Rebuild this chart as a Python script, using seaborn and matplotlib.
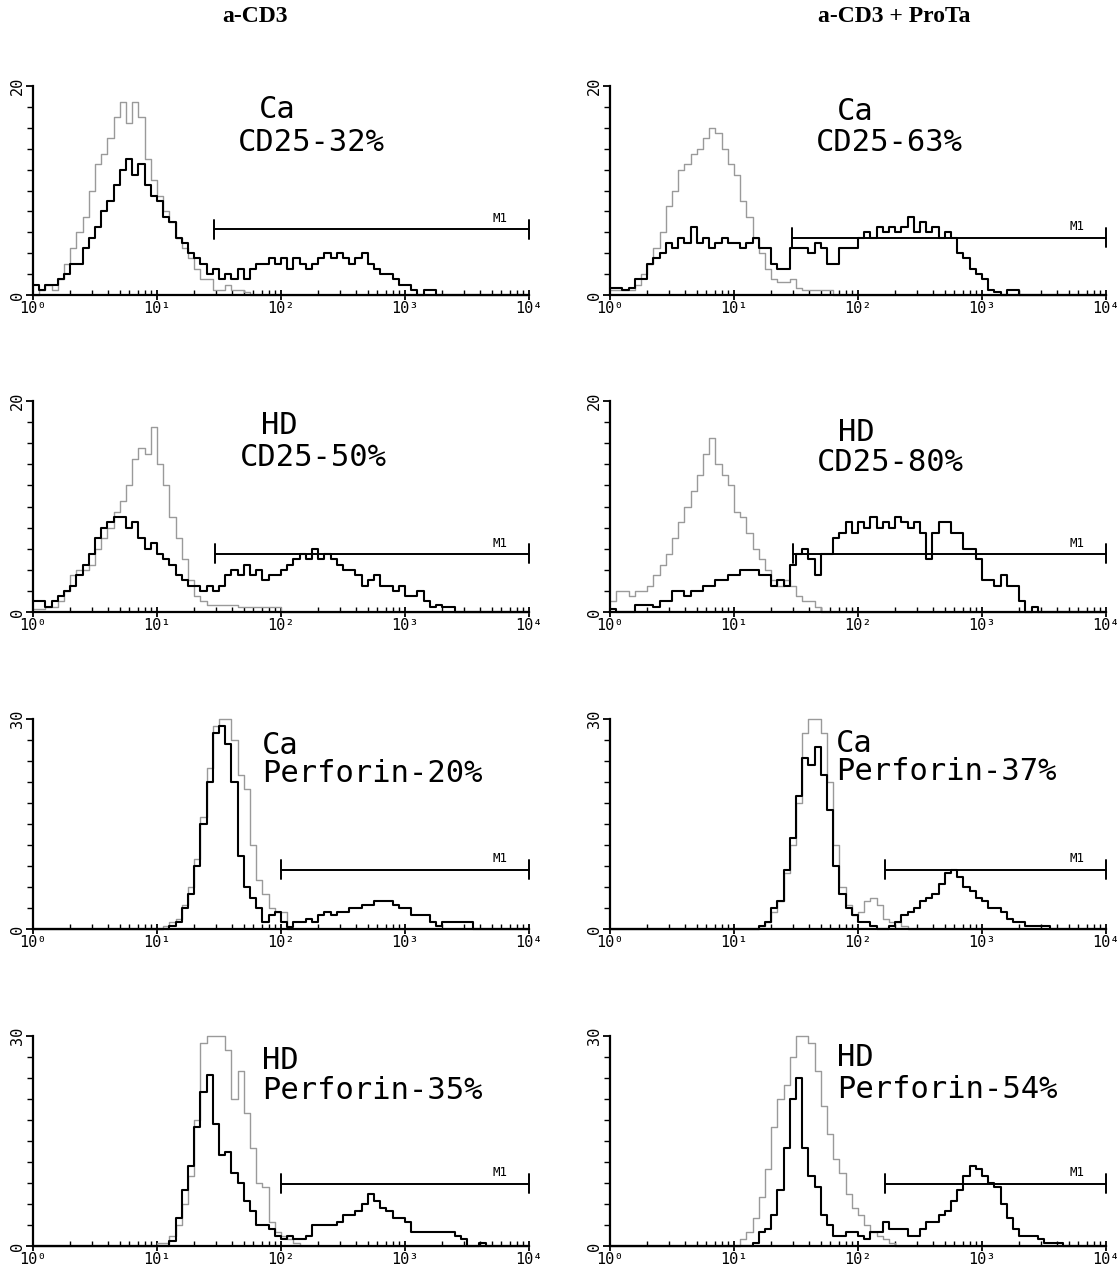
import numpy as np
import pandas as pd
import matplotlib
matplotlib.use("Agg")
import matplotlib.pyplot as plt
import seaborn as sns
from matplotlib.ticker import FixedLocator, NullFormatter

# ---------------- data (counts per channel, 0.05-decade channels from 10^0 to 10^4) ----------------
channel_edges_log = np.linspace(0, 4, 81)

# Row 1 left: Ca, a-CD3, CD25
ca_cd25_acd3_stain = [1, 0.5, 1, 1, 1.5, 2, 3, 3, 4.5, 5.5,
                      6.5, 8, 9, 10.5, 12, 13, 11.5, 12.5, 10.5, 9.5,
                      9, 7.5, 7, 5.5, 5, 4, 3.5, 3, 2, 2.5,
                      1.5, 2, 1.5, 2.5, 1.5, 2.5, 3, 3, 3.5, 3,
                      3.5, 2.5, 3.5, 3, 2.5, 3, 3.5, 4, 3.5, 4,
                      3.5, 3, 3.5, 4, 3, 2.5, 2, 2, 1.5, 1,
                      1, 0.5, 0, 0.5, 0.5, 0, 0, 0, 0, 0,
                      0, 0, 0, 0, 0, 0, 0, 0, 0, 0]
ca_cd25_acd3_ctrl = [0, 0.5, 1, 0.5, 1.5, 3, 4.5, 6, 7.5, 10,
                     12.5, 13.5, 15, 17, 18.5, 16.5, 18.5, 17, 13, 11,
                     9.5, 8, 7, 5.5, 4.5, 3.5, 2.5, 1.5, 1.5, 0.5,
                     0.5, 1, 0.5, 0.5, 0.3, 0, 0, 0, 0, 0,
                     0, 0, 0, 0, 0, 0, 0, 0, 0, 0,
                     0, 0, 0, 0, 0, 0, 0, 0, 0, 0,
                     0, 0, 0, 0, 0, 0, 0, 0, 0, 0,
                     0, 0, 0, 0, 0, 0, 0, 0, 0, 0]

# Row 1 right: Ca, a-CD3 + ProTa, CD25
ca_cd25_prota_stain = [0.7, 0.7, 0.5, 0.7, 1.5, 1.5, 3, 3.5, 4, 5,
                       4.5, 5.5, 5, 6.5, 5, 5.5, 4.5, 5, 5.5, 5,
                       5, 4.5, 5, 5.5, 4.5, 4.5, 3, 2.5, 2.5, 4.5,
                       4.5, 4.5, 4, 5, 4.5, 3, 3, 4.5, 4.5, 4.5,
                       5.5, 6, 5.5, 6.5, 6, 6.5, 6, 6.5, 7.5, 6,
                       7, 6, 6.5, 5.5, 6, 5.5, 4, 3.5, 2.5, 2,
                       1.5, 0.5, 0.3, 0, 0.5, 0.5, 0, 0, 0, 0,
                       0, 0, 0, 0, 0, 0, 0, 0, 0, 0]
ca_cd25_prota_ctrl = [0.5, 0.5, 0.5, 0.5, 1, 2, 3, 4.5, 6, 8.5,
                      10, 12, 12.5, 13.5, 14, 15, 16, 15.5, 14, 12.5,
                      11.5, 9, 7.5, 5.5, 4, 2.5, 1.5, 1.2, 1.2, 1.5,
                      0.7, 0.5, 0.5, 0.5, 0.5, 0.5, 0, 0, 0, 0,
                      0, 0, 0, 0, 0, 0, 0, 0, 0, 0,
                      0, 0, 0, 0, 0, 0, 0, 0, 0, 0,
                      0, 0, 0, 0, 0, 0, 0, 0, 0, 0,
                      0, 0, 0, 0, 0, 0, 0, 0, 0, 0]

# Row 2 left: HD, a-CD3, CD25
hd_cd25_acd3_stain = [1, 1, 0.5, 1, 1.5, 2, 2.5, 3.5, 4.5, 5.5,
                      7, 8, 8.5, 9, 9, 8, 8.5, 7, 6, 6.5,
                      5.5, 5, 4.5, 3.5, 3, 2.5, 2.5, 2, 2.5, 2,
                      2.5, 3.5, 4, 3.5, 4.5, 3.5, 4, 3, 3.5, 3.5,
                      4, 4.5, 5, 5.5, 5, 6, 5, 5.5, 5, 4.5,
                      4, 4, 3.5, 2.5, 3, 3.5, 2.5, 2.5, 2, 2.5,
                      1.5, 1.5, 2, 1, 0.5, 0.7, 0.5, 0.5, 0, 0,
                      0, 0, 0, 0, 0, 0, 0, 0, 0, 0]
hd_cd25_acd3_ctrl = [0.3, 0.3, 0.5, 0.5, 1, 2, 3.5, 4, 4, 4.5,
                     6, 7, 8, 9.5, 10.5, 12, 14.5, 15.5, 15, 17.5,
                     14, 12, 9, 7, 5, 3, 1.5, 1, 0.7, 0.7,
                     0.7, 0.7, 0.7, 0.5, 0.5, 0.5, 0.5, 0.5, 0.5, 0.5,
                     0, 0, 0, 0, 0, 0, 0, 0, 0, 0,
                     0, 0, 0, 0, 0, 0, 0, 0, 0, 0,
                     0, 0, 0, 0, 0, 0, 0, 0, 0, 0,
                     0, 0, 0, 0, 0, 0, 0, 0, 0, 0]

# Row 2 right: HD, a-CD3 + ProTa, CD25
hd_cd25_prota_stain = [0.3, 0, 0, 0, 0.7, 0.7, 0.7, 0.5, 1, 1,
                       2, 2, 1.5, 2, 2, 2.5, 2.5, 3, 3, 3.5,
                       3.5, 4, 4, 4, 3.5, 3.5, 2.5, 3, 2.5, 4.5,
                       5.5, 6, 5, 3.5, 5.5, 5.5, 7, 7.5, 8.5, 7.5,
                       8.5, 8, 9, 8, 8.5, 8, 9, 8.5, 8, 8.5,
                       7.5, 5, 7.5, 8.5, 8.5, 7.5, 7.5, 6, 6, 5,
                       3, 3, 2.5, 3.5, 2.5, 2.5, 1, 0, 0.5, 0,
                       0, 0, 0, 0, 0, 0, 0, 0, 0, 0]
hd_cd25_prota_ctrl = [1, 2, 2, 1.5, 2, 2, 2.5, 3.5, 4.5, 5.5,
                      7, 8.5, 10, 11.5, 13, 15, 16.5, 14, 13, 12,
                      9.5, 9, 7.5, 6, 5, 4, 3, 2.5, 3, 2.5,
                      1.5, 1, 1, 0.5, 0, 0, 0, 0, 0, 0,
                      0, 0, 0, 0, 0, 0, 0, 0, 0, 0,
                      0, 0, 0, 0, 0, 0, 0, 0, 0, 0,
                      0, 0, 0, 0, 0, 0, 0, 0, 0, 0,
                      0, 0, 0, 0, 0, 0, 0, 0, 0, 0]

# Row 3 left: Ca, a-CD3, Perforin
ca_perf_acd3_stain = [0, 0, 0, 0, 0, 0, 0, 0, 0, 0,
                      0, 0, 0, 0, 0, 0, 0, 0, 0, 0,
                      0, 0, 0.5, 1, 3, 5, 9, 15, 21, 28,
                      29, 26.5, 21, 10.5, 6, 4.5, 3, 1, 2, 2.5,
                      1, 0.3, 1, 1, 1.5, 1, 2, 2.5, 2, 2.5,
                      2.5, 3, 3, 3.5, 3.5, 4, 4, 4, 3.5, 3,
                      3, 2, 2, 2, 1, 0.5, 1, 1, 1, 1,
                      1, 0, 0, 0, 0, 0, 0, 0, 0, 0]
ca_perf_acd3_ctrl = [0, 0, 0, 0, 0, 0, 0, 0, 0, 0,
                     0, 0, 0, 0, 0, 0, 0, 0, 0, 0,
                     0, 0.5, 1, 1.5, 3.5, 6, 10, 16, 23, 29,
                     30, 30, 27, 22, 20, 12, 7, 5, 3, 2.5,
                     2.5, 0, 0, 0, 0, 0, 0, 0, 0, 0,
                     0, 0, 0, 0, 0, 0, 0, 0, 0, 0,
                     0, 0, 0, 0, 0, 0, 0, 0, 0, 0,
                     0, 0, 0, 0, 0, 0, 0, 0, 0, 0]

# Row 3 right: Ca, a-CD3 + ProTa, Perforin
ca_perf_prota_stain = [0, 0, 0, 0, 0, 0, 0, 0, 0, 0,
                       0, 0, 0, 0, 0, 0, 0, 0, 0, 0,
                       0, 0, 0, 0, 0.5, 1, 3, 4, 8.5, 13,
                       19, 24.5, 23.5, 26, 22, 17, 9, 5, 3, 2,
                       1, 1, 0.5, 0, 0, 0.5, 1, 2, 2.5, 3,
                       4, 4.5, 5, 6.5, 8, 8.5, 7.5, 6, 5.5, 4.5,
                       4, 3, 3, 2.5, 1.5, 1, 1, 0.5, 0.5, 0.5,
                       0.5, 0, 0, 0, 0, 0, 0, 0, 0, 0]
ca_perf_prota_ctrl = [0, 0, 0, 0, 0, 0, 0, 0, 0, 0,
                      0, 0, 0, 0, 0, 0, 0, 0, 0, 0,
                      0, 0, 0, 0, 0.5, 1, 2.5, 4, 8, 12,
                      18, 28, 30, 30, 28, 21, 12, 6, 3.5, 2,
                      2.5, 4, 4.5, 3.5, 1.5, 1, 1, 0.5, 0, 0,
                      0, 0, 0, 0, 0, 0, 0, 0, 0, 0,
                      0, 0, 0, 0, 0, 0, 0, 0, 0, 0,
                      0, 0, 0, 0, 0, 0, 0, 0, 0, 0]

# Row 4 left: HD, a-CD3, Perforin
hd_perf_acd3_stain = [0, 0, 0, 0, 0, 0, 0, 0, 0, 0,
                      0, 0, 0, 0, 0, 0, 0, 0, 0, 0,
                      0, 0, 0.7, 4, 8, 11.5, 17, 22, 24.5, 17.5,
                      13, 13.5, 10.5, 9, 6.5, 5, 3, 3, 2.5, 1.5,
                      1, 1.5, 1, 1, 1.5, 3, 3, 3, 3, 3.5,
                      4.5, 4.5, 5, 6, 7.5, 6.5, 5.5, 5, 4, 4,
                      3.5, 2, 2, 2, 2, 2, 2, 2, 1.5, 1,
                      0, 0, 0.5, 0, 0, 0, 0, 0, 0, 0]
hd_perf_acd3_ctrl = [0, 0, 0, 0, 0, 0, 0, 0, 0, 0,
                     0, 0, 0, 0, 0, 0, 0, 0, 0, 0,
                     0.5, 0.5, 1.5, 3, 6, 10, 18, 29, 30, 30,
                     30, 28, 21, 25, 19, 14, 9, 8.5, 3.5, 2,
                     1.5, 1, 0.5, 0, 0, 0, 0, 0, 0, 0,
                     0, 0, 0, 0, 0, 0, 0, 0, 0, 0,
                     0, 0, 0, 0, 0, 0, 0, 0, 0, 0,
                     0, 0, 0, 0, 0, 0, 0, 0, 0, 0]

# Row 4 right: HD, a-CD3 + ProTa, Perforin
hd_perf_prota_stain = [0, 0, 0, 0, 0, 0, 0, 0, 0, 0,
                       0, 0, 0, 0, 0, 0, 0, 0, 0, 0,
                       0, 0, 0, 0.5, 2, 2.5, 4.5, 8, 14, 21,
                       24, 14, 10, 8.5, 4.5, 3, 1.5, 1.5, 2, 2,
                       1.5, 1, 2, 2, 3.5, 2.5, 2.5, 2.5, 1.5, 1.5,
                       2.5, 3.5, 3.5, 4.5, 5, 6.5, 8, 10, 11.5, 11,
                       10, 9, 8.5, 6, 4, 2.5, 1.5, 1.5, 1.5, 1,
                       0.5, 0.5, 0.5, 0, 0, 0, 0, 0, 0, 0]
hd_perf_prota_ctrl = [0, 0, 0, 0, 0, 0, 0, 0, 0, 0,
                      0, 0, 0, 0, 0, 0, 0, 0, 0, 0,
                      0, 1, 2, 4, 7, 11, 17, 21, 23, 27,
                      30, 30, 29, 25, 20, 16, 12.5, 10.5, 7.5, 5.5,
                      4.5, 3, 2, 1.5, 1, 0.5, 0, 0, 0, 0,
                      0, 0, 0, 0, 0, 0, 0, 0, 0, 0,
                      0, 0, 0, 0, 0, 0, 0, 0, 0, 0,
                      0, 0, 0, 0, 0, 0, 0, 0, 0, 0]

column_titles = ["a-CD3", "a-CD3 + ProTa"]
group_labels = ["Ca", "Ca", "HD", "HD", "Ca", "Ca", "HD", "HD"]
marker_labels = ["CD25-32%", "CD25-63%", "CD25-50%", "CD25-80%",
                 "Perforin-20%", "Perforin-37%", "Perforin-35%", "Perforin-54%"]
y_max = [20, 20, 20, 20, 30, 30, 30, 30]
gate_start = [29, 29.5, 29.5, 30, 100, 166, 100, 166]
gate_level = [6.3, 5.5, 5.5, 5.5, 8.5, 8.5, 8.9, 8.9]
x_tick_labels = ["10⁰", "10¹", "10²", "10³", "10⁴"]

stains = [ca_cd25_acd3_stain, ca_cd25_prota_stain, hd_cd25_acd3_stain, hd_cd25_prota_stain,
          ca_perf_acd3_stain, ca_perf_prota_stain, hd_perf_acd3_stain, hd_perf_prota_stain]
ctrls = [ca_cd25_acd3_ctrl, ca_cd25_prota_ctrl, hd_cd25_acd3_ctrl, hd_cd25_prota_ctrl,
         ca_perf_acd3_ctrl, ca_perf_prota_ctrl, hd_perf_acd3_ctrl, hd_perf_prota_ctrl]

# ---------------- layout ----------------
sns.set_style("ticks")
plt.rcParams['font.family'] = ['DejaVu Sans Mono', 'DejaVu Sans']
plt.rcParams['text.color'] = 'black'
plt.rcParams['xtick.color'] = 'black'
plt.rcParams['ytick.color'] = 'black'
plt.rcParams['xtick.labelcolor'] = 'black'
plt.rcParams['ytick.labelcolor'] = 'black'

W, H = 1120, 1270
fig = plt.figure(figsize=(W / 100, H / 100), dpi=100)

col_x = [33, 610]
col_w = 496
row_top = [86, 401, 719, 1036]
row_bot = [295, 612, 929, 1246]

# text placement (axes fractions) per panel: (x_line1, x_line2, y_line1, y_line2)
text_pos = [
    (0.456, 0.413, 0.845, 0.690),
    (0.458, 0.415, 0.838, 0.687),
    (0.459, 0.417, 0.843, 0.694),
    (0.459, 0.418, 0.812, 0.666),
    (0.461, 0.461, 0.835, 0.700),
    (0.456, 0.456, 0.844, 0.711),
    (0.461, 0.461, 0.843, 0.702),
    (0.458, 0.458, 0.858, 0.706),
]

edges = 10 ** channel_edges_log

def step_frame(vals):
    v = list(vals) + [vals[-1]]
    return pd.DataFrame({"x": edges, "y": v})

for k in range(8):
    r, c = divmod(k, 2)
    left = col_x[c] / W
    bottom = 1 - row_bot[r] / H
    height = (row_bot[r] - row_top[r]) / H
    ax = fig.add_axes([left, bottom, col_w / W, height])
    ax.set_xscale("log")

    sns.lineplot(data=step_frame(ctrls[k]), x="x", y="y", ax=ax, drawstyle="steps-post",
                 color="#9a9a9a", linewidth=1.0, clip_on=False, zorder=2)
    sns.lineplot(data=step_frame(stains[k]), x="x", y="y", ax=ax, drawstyle="steps-post",
                 color="black", linewidth=1.5, clip_on=False, zorder=3)

    ym = y_max[k]
    ax.set_xlim(1, 1e4)
    ax.set_ylim(0, ym)

    # M1 gate marker
    g0, gl = gate_start[k], gate_level[k]
    bar = 0.045 * ym
    ax.plot([g0, 1e4], [gl, gl], color="black", lw=1.4, clip_on=False, zorder=4)
    ax.plot([g0, g0], [gl - bar, gl + bar], color="black", lw=1.4, clip_on=False, zorder=4)
    ax.plot([1e4, 1e4], [gl - bar, gl + bar], color="black", lw=1.4, clip_on=False, zorder=4)
    ax.text(10 ** 3.77, gl + 0.02 * ym, "M1", ha="center", va="bottom", fontsize=9,
            fontfamily="DejaVu Sans Mono", color="black")

    # annotation text
    x1, x2, y1, y2 = text_pos[k]
    ax.text(x1, y1, group_labels[k], transform=ax.transAxes, ha="left", va="baseline",
            fontsize=22, fontfamily="DejaVu Sans Mono", color="black")
    ax.text(x2, y2, marker_labels[k], transform=ax.transAxes, ha="left", va="baseline",
            fontsize=22, fontfamily="DejaVu Sans Mono", color="black")

    # axes styling
    sns.despine(ax=ax)
    for s in ("left", "bottom"):
        ax.spines[s].set_linewidth(1.6)
        ax.spines[s].set_color("black")
    ax.set_xlabel("")
    ax.set_ylabel("")
    ax.set_xticks([1, 10, 100, 1000, 10000])
    ax.set_xticklabels(x_tick_labels, fontsize=11, fontfamily="DejaVu Sans Mono")
    minors = [m * 10 ** d for d in range(4) for m in range(2, 10)]
    ax.xaxis.set_minor_locator(FixedLocator(minors))
    ax.xaxis.set_minor_formatter(NullFormatter())
    ax.tick_params(axis="x", which="major", direction="inout", length=7, width=1.3, pad=0.5)
    ax.tick_params(axis="x", which="minor", direction="in", length=3.5, width=1.0)
    ax.set_yticks([0, ym])
    ax.set_yticklabels(["0", str(ym)], rotation=90, va="center", fontsize=11,
                       fontfamily="DejaVu Sans Mono")
    ax.yaxis.set_minor_locator(FixedLocator([ym * i / 10 for i in range(1, 10)]))
    ax.tick_params(axis="y", which="major", direction="out", length=5, width=1.3, pad=1)
    ax.tick_params(axis="y", which="minor", direction="out", length=4, width=1.0)
    ax.patch.set_alpha(0)

fig.text(255 / W, 1 - 17 / H, column_titles[0], ha="center", va="center",
         fontfamily="Liberation Serif", fontweight="bold", fontsize=17, color="black")
fig.text(894 / W, 1 - 17 / H, column_titles[1], ha="center", va="center",
         fontfamily="Liberation Serif", fontweight="bold", fontsize=17, color="black")

fig.savefig("out.png", dpi=100, facecolor="white")
